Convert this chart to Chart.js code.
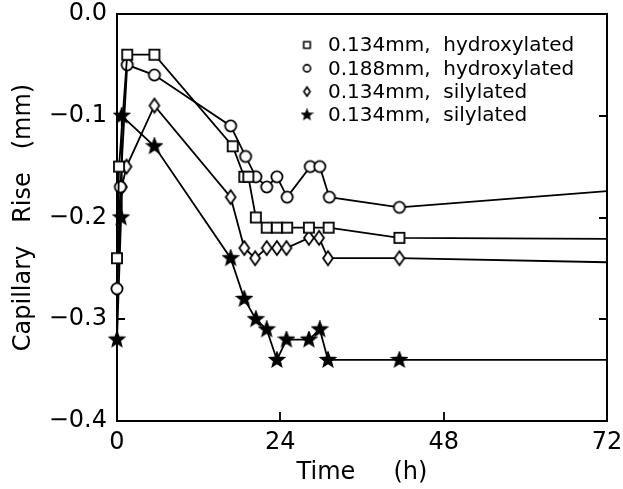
<!DOCTYPE html>
<html>
<head>
<meta charset="utf-8">
<script src="https://cdn.jsdelivr.net/npm/chart.js@4/dist/chart.umd.min.js"></script>
<style>
  html, body { margin: 0; padding: 0; background: #fff; }
  #wrap { width: 623px; height: 489px; }
</style>
</head>
<body>
<div id="wrap"><canvas id="chart" width="623" height="489"></canvas></div>
<script>
//Values: time (h) and capillary rise (mm)
const seriesLabels = ['0.134mm,  hydroxylated', '0.188mm,  hydroxylated', '0.134mm,  silylated', '0.134mm,  silylated'];

const squareTime = [0, 0.3, 1.5, 5.5, 17, 18.7, 19.3, 20.4, 22, 23.5, 25, 28.2, 31.1, 41.5, 72];
const squareRise = [-0.24, -0.15, -0.04, -0.04, -0.13, -0.16, -0.16, -0.20, -0.21, -0.21, -0.21, -0.21, -0.21, -0.22, -0.221];

const circleTime = [0, 0.5, 1.5, 5.5, 16.7, 18.9, 20.4, 22, 23.5, 25, 28.4, 29.8, 31.2, 41.5, 72];
const circleRise = [-0.27, -0.17, -0.05, -0.06, -0.11, -0.14, -0.16, -0.17, -0.16, -0.18, -0.15, -0.15, -0.18, -0.19, -0.174];

const diamondTime = [0, 0.7, 1.4, 5.5, 16.7, 18.7, 20.3, 22, 23.5, 24.9, 28.2, 29.7, 31, 41.5, 72];
const diamondRise = [-0.27, -0.17, -0.15, -0.09, -0.18, -0.23, -0.24, -0.23, -0.23, -0.23, -0.22, -0.22, -0.24, -0.24, -0.244];

const starTime = [0, 0.6, 0.7, 5.5, 16.7, 18.7, 20.4, 22, 23.5, 24.9, 28.2, 29.8, 31, 41.5, 72];
const starRise = [-0.32, -0.20, -0.10, -0.13, -0.24, -0.28, -0.30, -0.31, -0.34, -0.32, -0.32, -0.31, -0.34, -0.34, -0.34];

const xTickStep = 24;
const yTickStep = 0.1;

//Marker drawing on small canvases (used as pointStyle)
function makeMarker(kind, s, lw) {
    const c = document.createElement('canvas');
    const size = Math.ceil(s * 2 + 4);
    c.width = size;
    c.height = size;
    const g = c.getContext('2d');
    const m = size / 2;
    g.lineWidth = lw;
    g.strokeStyle = '#000';
    g.fillStyle = '#fff';
    g.beginPath();
    if (kind === 'square') {
        const h = s * 0.72;
        g.rect(m - h, m - h, h * 2, h * 2);
    } else if (kind === 'circle') {
        g.arc(m, m, s * 0.8, 0, Math.PI * 2);
    } else if (kind === 'diamond') {
        g.moveTo(m, m - s * 1.0);
        g.lineTo(m + s * 0.7, m);
        g.lineTo(m, m + s * 1.0);
        g.lineTo(m - s * 0.7, m);
        g.closePath();
    } else {
        for (let i = 0; i < 10; i++) {
            const r = i % 2 === 0 ? s * 1.05 : s * 0.45;
            const a = -Math.PI / 2 + i * Math.PI / 5;
            g.lineTo(m + r * Math.cos(a), m + r * Math.sin(a));
        }
        g.closePath();
        g.fillStyle = '#000';
    }
    g.fill();
    g.stroke();
    return c;
}

const kinds = ['square', 'circle', 'diamond', 'star'];
const bigMarkers = kinds.map(k => makeMarker(k, 7, 1.8));
const smallMarkers = kinds.map(k => makeMarker(k, 4.5, 1.6));

function toPoints(ts, vs) {
    return ts.map((t, i) => ({ x: t, y: vs[i] }));
}

const allTimes = [squareTime, circleTime, diamondTime, starTime];
const allRises = [squareRise, circleRise, diamondRise, starRise];

const datasets = seriesLabels.map((label, i) => ({
    label: label,
    data: toPoints(allTimes[i], allRises[i]),
    showLine: true,
    borderColor: '#000',
    borderWidth: 1.8,
    pointStyle: bigMarkers[i],
    pointRadius: (c) => (c.raw && c.raw.x >= 72 ? 0 : 6),
    clip: false
}));

//Frame, inward ticks and in-plot legend
const framePlugin = {
    id: 'frame',
    beforeDatasetsDraw(chart) {
        const { ctx, chartArea: a, scales } = chart;
        ctx.save();
        ctx.strokeStyle = '#000';
        ctx.lineWidth = 2;
        ctx.strokeRect(a.left, a.top, a.right - a.left, a.bottom - a.top);
        ctx.lineWidth = 1.8;
        ctx.beginPath();
        scales.y.ticks.forEach(t => {
            if (t.value <= -0.4 + 1e-9 || t.value >= -1e-9) return;
            const y = Math.round(scales.y.getPixelForValue(t.value));
            ctx.moveTo(a.left, y);
            ctx.lineTo(a.left + 8, y);
            ctx.moveTo(a.right, y);
            ctx.lineTo(a.right - 8, y);
        });
        scales.x.ticks.forEach(t => {
            if (t.value <= 0 || t.value >= 72) return;
            const x = Math.round(scales.x.getPixelForValue(t.value));
            ctx.moveTo(x, a.bottom);
            ctx.lineTo(x, a.bottom - 9);
        });
        ctx.stroke();
        ctx.restore();
    },
    afterDraw(chart) {
        const { ctx, chartArea: a } = chart;
        ctx.save();
        ctx.font = '20px "DejaVu Sans"';
        ctx.fillStyle = '#000';
        ctx.textBaseline = 'middle';
        chart.data.datasets.forEach((ds, i) => {
            const y = a.top + 31 + i * 23.3;
            const mk = smallMarkers[i];
            ctx.drawImage(mk, a.left + 190 - mk.width / 2, y - mk.height / 2);
            ctx.fillText(ds.label, a.left + 211, y + 1);
        });
        ctx.restore();
    }
};

const tickFont = { family: '"DejaVu Sans"', size: 24 };

new Chart(document.getElementById('chart').getContext('2d'), {
    type: 'scatter',
    data: { datasets: datasets },
    options: {
        responsive: false,
        animation: false,
        devicePixelRatio: 1,
        layout: { padding: { left: 0, right: 16, top: 14, bottom: 0 } },
        plugins: {
            legend: { display: false },
            tooltip: { enabled: false }
        },
        scales: {
            x: {
                type: 'linear',
                min: 0,
                max: 72,
                grid: { display: false, drawTicks: false },
                border: { display: false },
                ticks: {
                    stepSize: xTickStep,
                    color: '#000',
                    font: tickFont,
                    padding: 7,
                    maxRotation: 0
                },
                title: {
                    display: true,
                    text: 'Time     (h)',
                    color: '#000',
                    font: tickFont,
                    padding: { top: 0, bottom: 2 }
                },
                afterFit: (s) => {
                    s.height = 68;
                    s.paddingLeft = 0;
                    s.paddingRight = 0;
                }
            },
            y: {
                type: 'linear',
                min: -0.4,
                max: 0,
                grid: { display: false, drawTicks: false },
                border: { display: false },
                ticks: {
                    stepSize: yTickStep,
                    color: '#000',
                    font: tickFont,
                    padding: 10,
                    callback: (v) => (Math.abs(v) < 1e-9 ? '0.0' : v.toFixed(1).replace('-', '\u2212'))
                },
                title: {
                    display: true,
                    text: 'Capillary   Rise   (mm)',
                    color: '#000',
                    font: tickFont,
                    padding: { top: 9, bottom: 0 }
                },
                afterFit: (s) => {
                    s.width = 117;
                    s.paddingTop = 0;
                    s.paddingBottom = 0;
                }
            }
        }
    },
    plugins: [framePlugin]
});
</script>
</body>
</html>
